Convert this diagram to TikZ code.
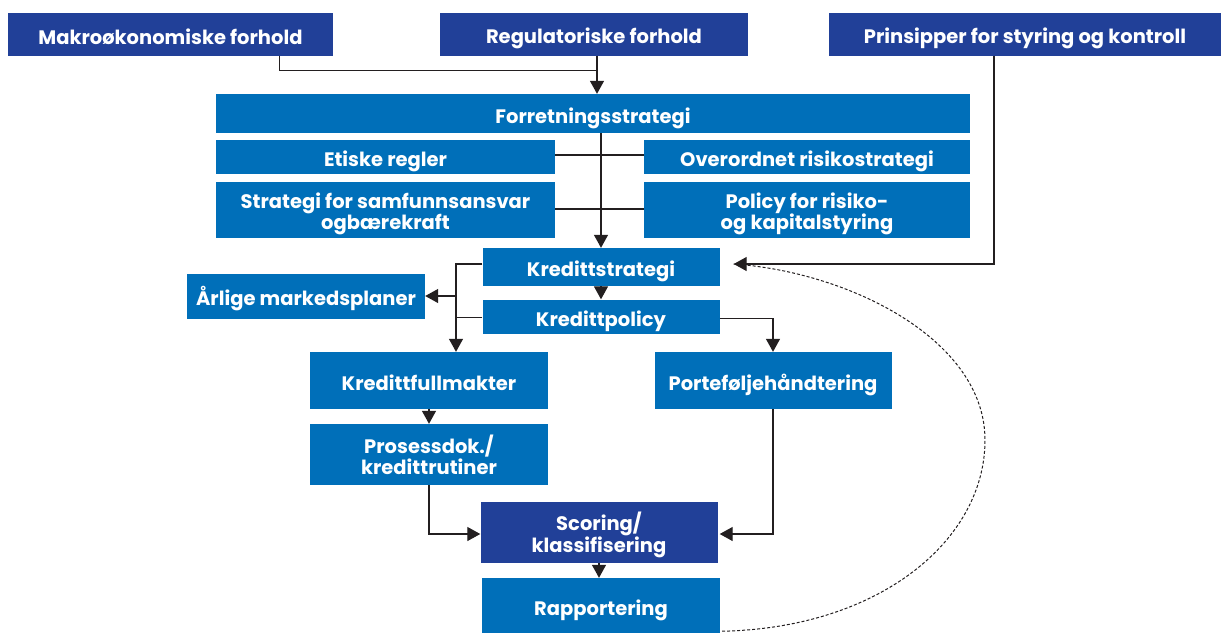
\documentclass[tikz,border=0pt]{standalone}
\usepackage{fontspec}
\setmainfont{Poppins}
\usetikzlibrary{arrows.meta}
\definecolor{blueA}{RGB}{0,111,185}
\definecolor{navyA}{RGB}{33,64,152}
\definecolor{lineC}{RGB}{35,31,32}
\newcommand\topstrut{\rule{0pt}{23pt}}
\newcommand\botstrut{\rule[-4.5pt]{0pt}{0pt}}
\tikzset{
  box/.style={fill=blueA, text=white, inner sep=0pt, align=center,
    font=\fontsize{19.5}{21.5}\selectfont\bfseries,
    execute at begin node={\rule{0pt}{25pt}},
    execute at end node={\rule[-4.5pt]{0pt}{0pt}}},
  mbox/.style={box, execute at begin node={}, execute at end node={}},
  nbox/.style={box, fill=navyA},
  nmbox/.style={mbox, fill=navyA},
  conn/.style={draw=lineC, line width=1.3pt},
  arr/.style={conn, -{Triangle[length=13pt,width=14pt]}},
  dconn/.style={draw=lineC, line width=1pt, dash pattern=on 3pt off 2pt}
}
\begin{document}
\begin{tikzpicture}[x=1pt,y=-1pt]
\useasboundingbox (0,0) rectangle (1221,633);
% top row
\node[nbox, minimum width=325pt, minimum height=43pt] (mak) at (170.5,34) {Makroøkonomiske forhold};
\node[nbox, minimum width=308pt, minimum height=43pt] (reg) at (594,34) {Regulatoriske forhold};
\node[nbox, minimum width=392pt, minimum height=43pt] (pri) at (1025,34) {Prinsipper for styring og kontroll};
% strategy block
\node[box, minimum width=754pt, minimum height=39pt] (for) at (593,113.5) {Forretningsstrategi};
\node[box, minimum width=339pt, minimum height=34pt] (eti) at (385.5,157) {Etiske regler};
\node[box, minimum width=326pt, minimum height=34pt] (ove) at (807,157) {Overordnet risikostrategi};
\node[mbox, minimum width=339pt, minimum height=56pt] (sam) at (385.5,210) {\topstrut Strategi for samfunnsansvar\\ogbærekraft\botstrut};
\node[mbox, minimum width=326pt, minimum height=56pt] (pol) at (807,210) {\topstrut Policy for risiko-\\og kapitalstyring\botstrut};
% credit block
\node[box, minimum width=237pt, minimum height=38pt] (ks) at (601,267) {Kredittstrategi};
\node[box, minimum width=237pt, minimum height=34pt] (kp) at (601,316.5) {Kredittpolicy};
\node[box, minimum width=238pt, minimum height=45pt] (arl) at (306,296) {Årlige markedsplaner};
\node[box, minimum width=238pt, minimum height=57pt] (kf) at (429,380.5) {Kredittfullmakter};
\node[box, minimum width=237pt, minimum height=57pt] (pf) at (773,380.5) {Porteføljehåndtering};
\node[mbox, minimum width=238pt, minimum height=61pt] (pd) at (429,454.5) {\topstrut Prosessdok./\\kredittrutiner\botstrut};
\node[nmbox, minimum width=237pt, minimum height=61pt] (sc) at (599,532.5) {\topstrut Scoring/\\klassifisering\botstrut};
\node[box, minimum width=238pt, minimum height=55pt] (ra) at (601,605.5) {Rapportering};
% helper coordinates
\coordinate (kstip) at ([xshift=14pt,yshift=3pt]ks.east);
\coordinate (lv) at ([xshift=27pt]kf.north);
% connectors
\draw[conn] ([xshift=-54pt]mak.south east) |- ([xshift=3pt,yshift=-15pt]reg.south);
\draw[arr] ([xshift=3pt]reg.south) -- ([xshift=3pt]reg.south |- for.north);
\draw[arr] ([xshift=8pt]for.south) -- ([xshift=8pt]for.south |- ks.north);
\draw[conn] ([yshift=2pt]eti.east) -- ([yshift=2pt]ove.west);
\draw[conn] ([yshift=1pt]sam.east) -- ([yshift=1pt]pol.west);
\draw[arr] (ks.south) -- (kp.north);
\draw[arr] ([yshift=3pt]ks.west) -| (lv);
\draw[arr] (lv |- arl.east) -- (arl.east);
\draw[conn] ([yshift=-1pt]kp.west) -- ([yshift=-1pt]kp.west -| lv);
\draw[arr] ([yshift=-2pt]kp.east) -| (pf.north);
\draw[arr] ([xshift=-31pt]pri.south) |- (kstip);
\draw[arr] (kf.south) -- (pd.north);
\draw[arr] (pd.south) |- ([yshift=-1.5pt]sc.west);
\draw[arr] (pf.south) |- ([xshift=2pt,yshift=-1.5pt]sc.east);
\draw[arr] (sc.south) -- (sc.south |- ra.north);
\draw[dconn] ([xshift=2pt,yshift=2pt]ra.south east) .. controls (880,628) and (985,540) .. (985,440)
  .. controls (985,340) and (850,272) .. (kstip);
\end{tikzpicture}
\end{document}
